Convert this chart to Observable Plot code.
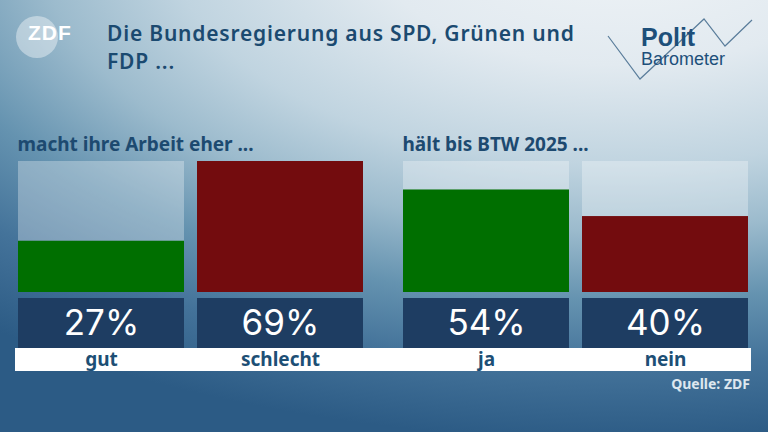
<!DOCTYPE html>
<html>
<head>
<meta charset="utf-8">
<script src="https://cdn.jsdelivr.net/npm/d3@7"></script>
<script src="https://cdn.jsdelivr.net/npm/@observablehq/plot@0.6"></script>
<style>
  html, body { margin: 0; padding: 0; }
  body {
    width: 768px; height: 432px; overflow: hidden; position: relative;
    font-family: "Noto Sans", sans-serif;
    background: radial-gradient(ellipse 1000px 500px at 620px -60px,
      #f0f4f7 0%, #e2eaf0 25%, #c0d4e0 45%, #9cbbcd 58%, #6593b0 72%, #44739a 85%, #2c5b85 100%);
  }
  #title {
    position: absolute; left: 107px; top: 19px; width: 490px;
    font-size: 21px; font-weight: 600; line-height: 28px; letter-spacing: 0.8px; color: #1b4a70;
  }
  #zdf { position: absolute; left: 16px; top: 16px; width: 42px; height: 42px; border-radius: 50%; background: rgba(255,255,255,0.4); }
  #zdftext { position: absolute; left: 28px; top: 21px; font-family: "Liberation Sans", sans-serif; font-weight: bold; font-size: 21px; color: #fff; letter-spacing: 1px; }
  #logo { position: absolute; left: 600px; top: 10px; }
  #strip { position: absolute; left: 15px; top: 348px; width: 736px; height: 23px; background: #fff; }
  #source { position: absolute; right: 18px; top: 374px; font-size: 14px; font-weight: 700; color: #dde7ef; }
  #chart { position: absolute; left: 0; top: 0; }
</style>
</head>
<body>
<div id="zdf"></div>
<div id="zdftext">ZDF</div>
<div id="title">Die Bundesregierung aus SPD, Grünen und FDP ...</div>
<svg id="logo" width="160" height="80" viewBox="600 10 160 80">
  <polyline points="608,36 640,79 704,19 725,46 752,20" fill="none" stroke="#5a7d9b" stroke-width="1.2"/>
  <text x="641" y="46" font-family="Liberation Sans, sans-serif" font-weight="bold" font-size="25" fill="#1d4f7a">Polit</text>
  <text x="641" y="65" font-family="Liberation Sans, sans-serif" font-size="18" fill="#1d4f7a">Barometer</text>
</svg>
<div id="strip"></div>
<div id="source">Quelle: ZDF</div>
<div id="chart"></div>
<script>
const questions = ["macht ihre Arbeit eher ...", "hält bis BTW 2025 ..."];
const answers   = ["gut", "schlecht", "ja", "nein"];
const values    = [27, 69, 54, 40];
const question  = [0, 0, 1, 1];
const sentiment = ["positiv", "negativ", "positiv", "negativ"];
const sentimentColors = ["#006f00", "#730c0e"];

const rows = answers.map((a, i) => ({
  answer: a, value: values[i], question: questions[question[i]], sentiment: sentiment[i]
}));
const yMax = d3.max(values);

const chart = Plot.plot({
  width: 768, height: 432,
  marginTop: 161, marginBottom: 140, marginLeft: 16, marginRight: 18,
  facet: { data: rows, x: "question", marginTop: 0, marginBottom: 0, marginLeft: 0, marginRight: 0 },
  fx: { domain: questions, paddingInner: 0.0984, paddingOuter: 0, axis: null },
  x: { domain: ["positiv", "negativ"], paddingInner: 0.072, paddingOuter: 0, axis: null },
  y: { domain: [0, yMax], axis: null },
  color: { domain: ["positiv", "negativ"], range: sentimentColors },
  style: { background: "transparent", overflow: "visible" },
  marks: [
    Plot.barY(rows, { x: "sentiment", y: () => yMax, fill: "white", fillOpacity: 0.3 }),
    Plot.barY(rows, { x: "sentiment", y: "value", fill: "sentiment" }),
    Plot.barY(rows, { x: "sentiment", y1: 0, y2: 0, insetTop: 6, insetBottom: -56, fill: "#1e3d62" }),
    Plot.text(rows, { x: "sentiment", y: 0, dy: 31, text: d => d.value + "%", fill: "white",
      fontSize: 35, fontFamily: "Inter, sans-serif", fontWeight: 400 }),
    Plot.text(rows, { x: "sentiment", y: 0, dy: 67, text: "answer", fill: "#1d4f75",
      fontSize: 19, fontWeight: 700, fontFamily: "Noto Sans, sans-serif" }),
    Plot.text(rows, { filter: d => d.sentiment === "positiv", text: "question", frameAnchor: "top-left",
      lineAnchor: "bottom", dy: -11, fill: "#1d4a70", fontSize: 19, fontWeight: 700, fontFamily: "Noto Sans, sans-serif" })
  ]
});
document.getElementById("chart").appendChild(chart);
</script>
</body>
</html>
